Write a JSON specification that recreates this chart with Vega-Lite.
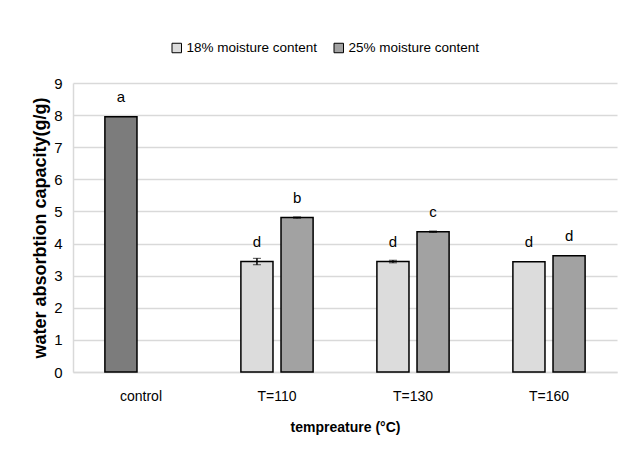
{
  "$schema": "https://vega.github.io/schema/vega-lite/v6.json",
  "width": 544,
  "height": 289,
  "autosize": {"type": "none"},
  "padding": {"left": 73, "top": 83, "right": 6, "bottom": 87},
  "background": "white",
  "data": {
    "values": [
      {"temp": "control", "series": "18% moisture content", "wac": 7.95, "err": 0, "sig": "a"},
      {"temp": "T=110", "series": "18% moisture content", "wac": 3.44, "err": 0.1, "sig": "d"},
      {"temp": "T=110", "series": "25% moisture content", "wac": 4.81, "err": 0.02, "sig": "b"},
      {"temp": "T=130", "series": "18% moisture content", "wac": 3.44, "err": 0.04, "sig": "d"},
      {"temp": "T=130", "series": "25% moisture content", "wac": 4.37, "err": 0.02, "sig": "c"},
      {"temp": "T=160", "series": "18% moisture content", "wac": 3.43, "err": 0, "sig": "d"},
      {"temp": "T=160", "series": "25% moisture content", "wac": 3.62, "err": 0, "sig": "d"}
    ]
  },
  "encoding": {
    "x": {
      "field": "temp",
      "type": "nominal",
      "sort": ["control", "T=110", "T=130", "T=160"],
      "title": "tempreature (°C)",
      "scale": {"paddingInner": 0.41, "paddingOuter": 0.205},
      "axis": {
        "labelAngle": 0,
        "labelFont": "Liberation Sans",
        "labelFontSize": 14,
        "labelColor": "black",
        "labelPadding": 17,
        "ticks": false,
        "domainColor": "#d9d9d9",
        "domainWidth": 1.5,
        "titleFont": "Liberation Sans",
        "titleFontSize": 14,
        "titleFontWeight": "bold",
        "titleColor": "black",
        "titlePadding": 17
      }
    },
    "xOffset": {
      "field": "series",
      "type": "nominal",
      "scale": {"domain": ["18% moisture content", "25% moisture content"], "paddingInner": 0.2, "paddingOuter": 0.1}
    },
    "y": {
      "field": "wac",
      "type": "quantitative",
      "title": "water absorbtion capacity(g/g)",
      "scale": {"domain": [0, 9]},
      "axis": {
        "values": [0, 1, 2, 3, 4, 5, 6, 7, 8, 9],
        "labelFont": "Liberation Sans",
        "labelFontSize": 15,
        "labelColor": "black",
        "labelPadding": 11,
        "ticks": false,
        "domainColor": "#d9d9d9",
        "domainWidth": 1.5,
        "gridColor": "#d9d9d9",
        "gridWidth": 1.5,
        "titleFont": "Liberation Sans",
        "titleFontSize": 18,
        "titleFontWeight": "bold",
        "titleColor": "black",
        "titlePadding": 4
      }
    }
  },
  "layer": [
    {
      "mark": {"type": "bar", "stroke": "black", "strokeWidth": 1.5},
      "encoding": {
        "color": {
          "field": "series",
          "type": "nominal",
          "scale": {"domain": ["18% moisture content", "25% moisture content"], "range": ["#dcdcdc", "#a2a2a2"]},
          "condition": {"test": "datum.temp === 'control'", "value": "#7c7c7c"},
          "legend": {
            "title": null,
            "orient": "none",
            "direction": "horizontal",
            "legendX": 97,
            "legendY": -42,
            "symbolType": "square",
            "symbolSize": 90,
            "symbolStrokeColor": "black",
            "symbolStrokeWidth": 1,
            "symbolOpacity": 1,
            "labelFont": "Liberation Sans",
            "labelFontSize": 13.5,
            "labelColor": "black",
            "labelOffset": 3,
            "columnPadding": 14
          }
        }
      }
    },
    {
      "transform": [{"filter": "datum.err > 0"}],
      "mark": {"type": "errorbar", "ticks": {"size": 8, "color": "black", "strokeWidth": 1.5}, "rule": {"color": "black", "strokeWidth": 1.5}},
      "encoding": {
        "y": {"field": "wac", "type": "quantitative"},
        "yError": {"field": "err"}
      }
    },
    {
      "mark": {"type": "text", "dy": -20, "baseline": "middle", "font": "Liberation Sans", "fontSize": 15, "color": "black"},
      "encoding": {
        "text": {"field": "sig"}
      }
    }
  ],
  "config": {"view": {"stroke": null}}
}
